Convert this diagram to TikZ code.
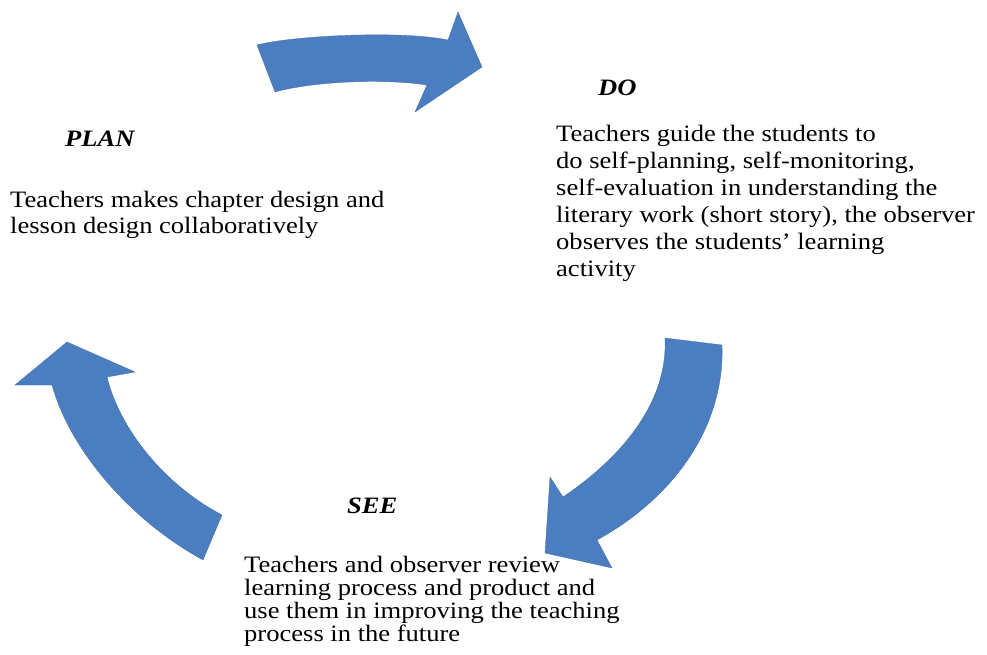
\documentclass[tikz,border=0pt]{standalone}
\usepackage{fontspec}
\setmainfont{Liberation Serif}[FakeStretch=1.13]
\usepackage{tikz}
\definecolor{cycleblue}{RGB}{74,126,192}

\begin{document}
\begin{tikzpicture}[x=1pt,y=-1pt,
  cyclearrow/.style={fill=cycleblue,draw=cycleblue!85!black,line width=0.3pt,line join=round},
  stagetitle/.style={anchor=base west,inner sep=0pt,font=\fontsize{23.5}{22.5}\selectfont\bfseries\itshape},
  stagetext/.style={anchor=north west,inner sep=0pt,align=left,font=\fontsize{23.5}{#1}\selectfont},
  stagetext/.default=23]
\useasboundingbox[fill=white] (0,0) rectangle (987,655);

\draw[cyclearrow] (257,45) .. controls (290,36) and (400,30) .. (448,40) -- (458,12) -- (482,67)
  -- (415,112) -- (427,85) .. controls (380,78) and (310,82) .. (275,92) -- cycle;
\draw[cyclearrow] (665,338) -- (722,345) .. controls (725,430) and (670,500) .. (597,540)
  -- (612,568) -- (545,553) -- (550,477) -- (563,497) .. controls (625,455) and (668,400) .. (665,338) -- cycle;
\draw[cyclearrow] (203,560) .. controls (130,520) and (70,450) .. (52,385) -- (15,385) -- (67,342)
  -- (135,372) -- (107,377) .. controls (120,430) and (165,485) .. (222,515) -- cycle;

\node[stagetitle] (plantitle) at (65,147) {PLAN};
\node[stagetext=26] (plantext) at (10,191) {Teachers makes chapter design and\\lesson design collaboratively};

\node[stagetitle] (dotitle) at (598,96) {DO};
\node[stagetext=27] (dotext) at (556,125) {Teachers guide the students to\\do self-planning, self-monitoring,\\self-evaluation in understanding the\\literary work (short story), the observer\\observes the students' learning\\activity};

\node[stagetitle] (seetitle) at (347,513) {SEE};
\node[stagetext=23] (seetext) at (244,556) {Teachers and observer review\\learning process and product and\\use them in improving the teaching\\process in the future};
\end{tikzpicture}
\end{document}
